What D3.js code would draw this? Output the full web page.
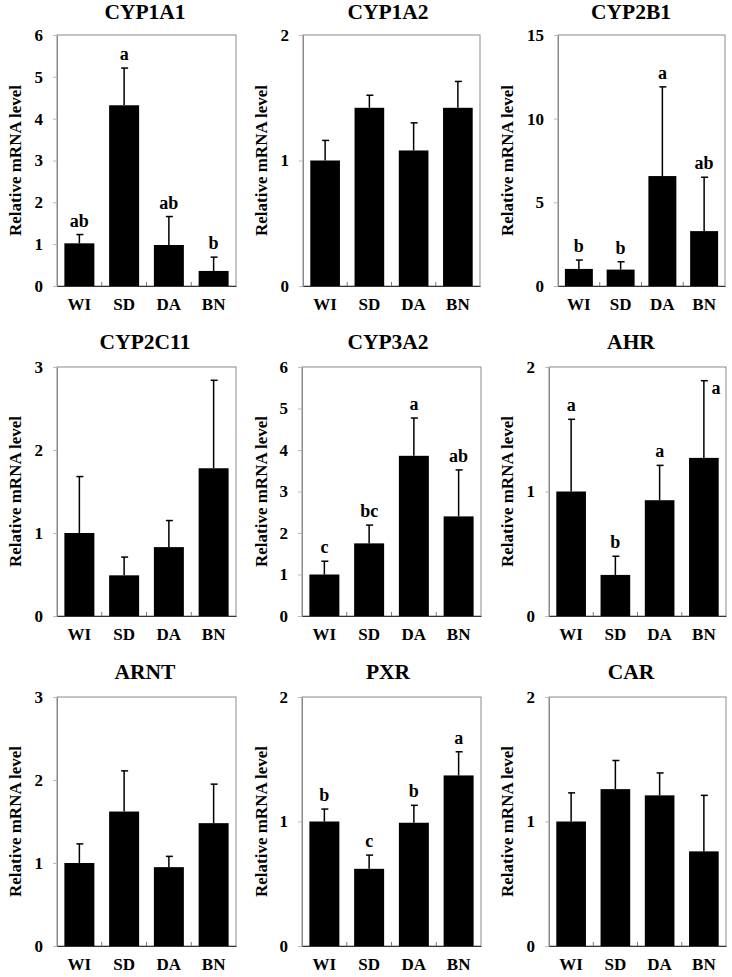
<!DOCTYPE html>
<html>
<head>
<meta charset="utf-8">
<script src="https://cdn.jsdelivr.net/npm/d3@7"></script>
<style>
  html, body { margin: 0; padding: 0; background: #fff; }
  svg { display: block; }
  text { font-family: "Liberation Serif", "Times New Roman", serif; font-weight: bold; fill: #000; }
</style>
</head>
<body>
<svg id="chart" width="732" height="977"></svg>
<script>
// ---- data ----
const groups = ["WI", "SD", "DA", "BN"];
const genes = ["CYP1A1", "CYP1A2", "CYP2B1", "CYP2C11", "CYP3A2", "AHR", "ARNT", "PXR", "CAR"];

const meanCYP1A1 = [1.02, 4.32, 0.98, 0.36];
const meanCYP1A2 = [1.00, 1.42, 1.08, 1.42];
const meanCYP2B1 = [1.02, 0.98, 6.57, 3.28];
const meanCYP2C11 = [1.00, 0.49, 0.83, 1.78];
const meanCYP3A2 = [1.00, 1.75, 3.86, 2.40];
const meanAHR = [1.00, 0.33, 0.93, 1.27];
const meanARNT = [1.00, 1.62, 0.95, 1.48];
const meanPXR = [1.00, 0.62, 0.99, 1.37];
const meanCAR = [1.00, 1.26, 1.21, 0.76];

const errCYP1A1 = [0.21, 0.89, 0.68, 0.33];
const errCYP1A2 = [0.16, 0.10, 0.22, 0.21];
const errCYP2B1 = [0.53, 0.47, 5.33, 3.22];
const errCYP2C11 = [0.68, 0.22, 0.32, 1.06];
const errCYP3A2 = [0.32, 0.44, 0.91, 1.12];
const errAHR = [0.58, 0.15, 0.28, 0.62];
const errARNT = [0.23, 0.49, 0.13, 0.47];
const errPXR = [0.10, 0.11, 0.14, 0.19];
const errCAR = [0.23, 0.23, 0.18, 0.45];

const lettersCYP1A1 = ["ab", "a", "ab", "b"];
const lettersCYP2B1 = ["b", "b", "a", "ab"];
const lettersCYP3A2 = ["c", "bc", "a", "ab"];
const lettersAHR = ["a", "b", "a", "a"];
const lettersPXR = ["b", "c", "b", "a"];

const ticksCYP1A1 = [0, 1, 2, 3, 4, 5, 6];
const ticksCYP1A2 = [0, 1, 2];
const ticksCYP2B1 = [0, 5, 10, 15];
const ticksCYP2C11 = [0, 1, 2, 3];
const ticksCYP3A2 = [0, 1, 2, 3, 4, 5, 6];
const ticksAHR = [0, 1, 2];
const ticksARNT = [0, 1, 2, 3];
const ticksPXR = [0, 1, 2];
const ticksCAR = [0, 1, 2];

const yLabel = "Relative mRNA level";

const panels = [
  { gene: "CYP1A1", mean: meanCYP1A1, err: errCYP1A1, letters: lettersCYP1A1, ticks: ticksCYP1A1 },
  { gene: "CYP1A2", mean: meanCYP1A2, err: errCYP1A2, letters: null, ticks: ticksCYP1A2 },
  { gene: "CYP2B1", mean: meanCYP2B1, err: errCYP2B1, letters: lettersCYP2B1, ticks: ticksCYP2B1 },
  { gene: "CYP2C11", mean: meanCYP2C11, err: errCYP2C11, letters: null, ticks: ticksCYP2C11 },
  { gene: "CYP3A2", mean: meanCYP3A2, err: errCYP3A2, letters: lettersCYP3A2, ticks: ticksCYP3A2 },
  { gene: "AHR", mean: meanAHR, err: errAHR, letters: lettersAHR, ticks: ticksAHR },
  { gene: "ARNT", mean: meanARNT, err: errARNT, letters: null, ticks: ticksARNT },
  { gene: "PXR", mean: meanPXR, err: errPXR, letters: lettersPXR, ticks: ticksPXR },
  { gene: "CAR", mean: meanCAR, err: errCAR, letters: null, ticks: ticksCAR }
];

// ---- layout ----
const rowTop = [35, 367, 697];
const rowBottom = [286, 616, 946];
const titleY = [19, 349, 679];
const colTitleX = [145, 388, 631];
const colYLabelX = [21, 267, 513];
const plotX = [
  [[57, 236], [303, 480], [558, 725]],
  [[57, 236], [302, 481], [549, 726]],
  [[57, 236], [302, 481], [549, 726]]
];

const svg = d3.select("#chart");

panels.forEach((p, i) => {
  const r = Math.floor(i / 3), c = i % 3;
  const [x0, x1] = plotX[r][c];
  const y0 = rowTop[r], y1 = rowBottom[r];
  const g = svg.append("g");

  const x = d3.scaleBand().domain(groups).range([x0, x1]).paddingInner(0.33).paddingOuter(0.165);
  const y = d3.scaleLinear().domain([0, d3.max(p.ticks)]).range([y1, y0]);
  const step = x.step();

  // title
  g.append("text").attr("x", colTitleX[c]).attr("y", titleY[r])
    .attr("text-anchor", "middle").style("font-size", "21.5px").text(p.gene);

  // y label
  g.append("text")
    .attr("transform", `translate(${colYLabelX[c]},${(y0 + y1) / 2}) rotate(-90)`)
    .attr("text-anchor", "middle").style("font-size", "17px").text(yLabel);

  // frame
  g.append("rect").attr("x", x0).attr("y", y0).attr("width", x1 - x0).attr("height", y1 - y0)
    .attr("fill", "none").attr("stroke", "#8a8a8a").attr("stroke-width", 1);

  // y axis
  const yAxis = d3.axisLeft(y).tickValues(p.ticks).tickSize(4).tickPadding(10).tickFormat(d3.format("d"));
  const ya = g.append("g").attr("transform", `translate(${x0},0)`).call(yAxis);
  ya.select(".domain").attr("stroke", "#8a8a8a");
  ya.selectAll(".tick line").attr("stroke", "#bbb");
  ya.selectAll(".tick text").style("font-size", "17px").style("font-family", "Liberation Serif, serif").style("font-weight", "bold");

  // x axis (labels) + category separators
  const xAxis = d3.axisBottom(x).tickSize(0).tickPadding(12);
  const xa = g.append("g").attr("transform", `translate(0,${y1})`).call(xAxis);
  xa.select(".domain").attr("stroke", "#333").attr("stroke-width", 1.2);
  xa.selectAll(".tick text").style("font-size", "17px").style("font-family", "Liberation Serif, serif").style("font-weight", "bold").attr("dy", "0.71em");
  groups.slice(1).forEach(gr => {
    const bx = x(gr) - step * x.paddingInner() / 2;
    g.append("line").attr("x1", bx).attr("x2", bx).attr("y1", y1).attr("y2", y1 - 4)
      .attr("stroke", "#777").attr("stroke-width", 1);
  });

  // bars
  g.selectAll(".bar").data(groups).enter().append("rect")
    .attr("x", d => x(d)).attr("width", x.bandwidth())
    .attr("y", (d, k) => y(p.mean[k])).attr("height", (d, k) => y1 - y(p.mean[k]))
    .attr("fill", "#000");

  // error bars (upper only)
  groups.forEach((d, k) => {
    const cx = x(d) + x.bandwidth() / 2;
    const top = y(p.mean[k] + p.err[k]);
    g.append("line").attr("x1", cx).attr("x2", cx).attr("y1", y(p.mean[k])).attr("y2", top)
      .attr("stroke", "#000").attr("stroke-width", 1.5);
    g.append("line").attr("x1", cx - 3).attr("x2", cx + 4).attr("y1", top).attr("y2", top)
      .attr("stroke", "#000").attr("stroke-width", 1.5);
    if (p.letters) {
      const lt = p.letters[k];
      if (top - 22 < y0) {
        g.append("text").attr("x", cx + 12).attr("y", top + 13).attr("text-anchor", "middle")
          .style("font-size", "18px").text(lt);
      } else {
        g.append("text").attr("x", cx).attr("y", top - 8).attr("text-anchor", "middle")
          .style("font-size", "18px").text(lt);
      }
    }
  });
});
</script>
</body>
</html>
